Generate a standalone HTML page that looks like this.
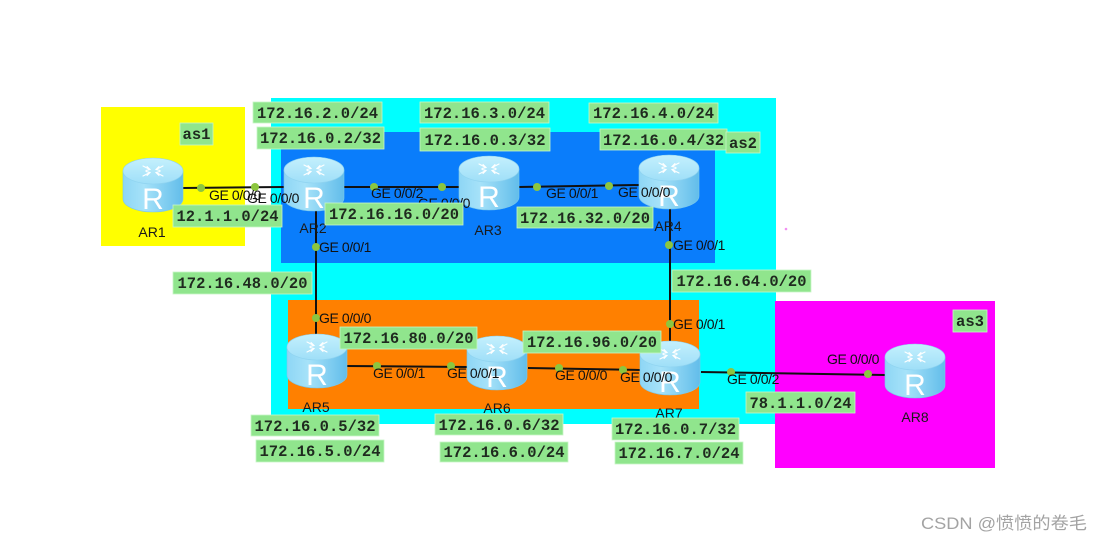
<!DOCTYPE html>
<html><head><meta charset="utf-8"><style>
html,body{margin:0;padding:0;background:#fff;}
svg{display:block;}
.m{font-family:"Liberation Mono","DejaVu Sans Mono",monospace;font-size:15.5px;fill:#1f2a1f;font-weight:bold;}
.g{font-family:"Liberation Sans",sans-serif;font-size:14px;fill:#111;letter-spacing:-0.4px;}
.a{font-family:"Liberation Sans",sans-serif;font-size:14px;fill:#1a1a1a;}
.r{font-family:"Liberation Sans",sans-serif;font-size:30px;fill:#fff;}
</style></head><body>
<svg width="1104" height="543" viewBox="0 0 1104 543" xmlns="http://www.w3.org/2000/svg">
<defs>
<linearGradient id="side" x1="0" y1="0" x2="1" y2="0">
<stop offset="0" stop-color="#8ed6f5"/><stop offset="0.35" stop-color="#a6e2f9"/><stop offset="1" stop-color="#62bdea"/>
</linearGradient>
<linearGradient id="top" x1="0" y1="0" x2="0" y2="1">
<stop offset="0" stop-color="#c4f0fd"/><stop offset="1" stop-color="#9fdff8"/>
</linearGradient>
<g id="rb">
<path d="M0,13 L0,41 A30,13 0 0 0 60,41 L60,13 Z" fill="url(#side)" stroke="#7bc9ec" stroke-width="0.6"/>
<ellipse cx="30" cy="13" rx="30" ry="13" fill="url(#top)" stroke="#8fd3f0" stroke-width="0.6"/>
<g stroke="#fff" stroke-width="1.1" fill="none" stroke-linecap="round">
<path d="M20,8 L27,11.5 M24,8.5 L27,11.5 L23,12.5"/>
<path d="M40,8 L33,11.5 M36,8.5 L33,11.5 L37,12.5"/>
<path d="M20,18 L27,14.5 M23,13.5 L27,14.5 L24,17.5"/>
<path d="M40,18 L33,14.5 M37,13.5 L33,14.5 L36,17.5"/>
</g>
</g>
</defs>

<!-- regions -->
<rect x="101" y="107" width="144" height="139" fill="#ffff00"/>
<rect x="271" y="98" width="505" height="326" fill="#00ffff"/>
<rect x="281" y="132" width="434" height="131" fill="#0a7dfb"/>
<rect x="288" y="300" width="411" height="109" fill="#ff8000"/>
<rect x="775" y="301" width="220" height="167" fill="#ff00ff"/>
<circle cx="786" cy="229" r="1.3" fill="#f28ff2"/>

<!-- links -->
<g stroke="#111" stroke-width="2" fill="none">
<path d="M183,188 L284,187"/>
<path d="M344,187 L459,187"/>
<path d="M519,187 L639,185"/>
<path d="M316,209 L316,335"/>
<path d="M670,207 L670,341"/>
<path d="M346,366 L467,367"/>
<path d="M528,368 L640,370"/>
<path d="M701,372 L885,375"/>
</g>

<!-- routers -->
<g transform="translate(123,158)"><use href="#rb"/><text class="r" x="30" y="51" text-anchor="middle">R</text></g>
<g transform="translate(284,157)"><use href="#rb"/><text class="r" x="30" y="51" text-anchor="middle">R</text></g>
<g transform="translate(459,156)"><use href="#rb"/><text class="r" x="30" y="51" text-anchor="middle">R</text></g>
<g transform="translate(639,155)"><use href="#rb"/><text class="r" x="30" y="51" text-anchor="middle">R</text></g>
<g transform="translate(287,334)"><use href="#rb"/><text class="r" x="30" y="51" text-anchor="middle">R</text></g>
<g transform="translate(467,336)"><use href="#rb"/><text class="r" x="30" y="51" text-anchor="middle">R</text></g>
<g transform="translate(640,341)"><use href="#rb"/><text class="r" x="30" y="51" text-anchor="middle">R</text></g>
<g transform="translate(885,344)"><use href="#rb"/><text class="r" x="30" y="51" text-anchor="middle">R</text></g>

<!-- dots -->
<g fill="#8cc63f">
<circle cx="201" cy="188" r="4"/><circle cx="255" cy="187" r="4"/>
<circle cx="374" cy="187" r="4"/><circle cx="442" cy="187" r="4"/>
<circle cx="537" cy="187" r="4"/><circle cx="609" cy="186" r="4"/>
<circle cx="316" cy="247" r="4"/><circle cx="669" cy="245" r="4"/>
<circle cx="316" cy="318" r="4"/><circle cx="377" cy="366" r="4"/>
<circle cx="451" cy="366" r="4"/><circle cx="559" cy="368" r="4"/>
<circle cx="623" cy="370" r="4"/><circle cx="670" cy="324" r="4"/>
<circle cx="731" cy="372" r="4"/><circle cx="868" cy="374" r="4"/>
</g>

<!-- router names -->
<g class="a" text-anchor="middle">
<text x="152" y="237">AR1</text>
<text x="313" y="233">AR2</text>
<text x="488" y="235">AR3</text>
<text x="668" y="231">AR4</text>
<text x="316" y="412">AR5</text>
<text x="497" y="413">AR6</text>
<text x="669" y="418">AR7</text>
<text x="915" y="422">AR8</text>
</g>

<!-- interface labels -->
<g class="g">
<text x="209" y="200">GE 0/0/0</text>
<text x="247" y="203">GE 0/0/0</text>
<text x="371" y="198">GE 0/0/2</text>
<text x="418" y="208">GE 0/0/0</text>
<text x="546" y="198">GE 0/0/1</text>
<text x="618" y="197">GE 0/0/0</text>
<text x="319" y="252">GE 0/0/1</text>
<text x="673" y="250">GE 0/0/1</text>
<text x="319" y="323">GE 0/0/0</text>
<text x="373" y="378">GE 0/0/1</text>
<text x="447" y="378">GE 0/0/1</text>
<text x="555" y="380">GE 0/0/0</text>
<text x="620" y="382">GE 0/0/0</text>
<text x="673" y="329">GE 0/0/1</text>
<text x="727" y="384">GE 0/0/2</text>
<text x="827" y="364">GE 0/0/0</text>
</g>

<!-- green label boxes -->
<g fill="#90e58d" stroke="#c8f5c6" stroke-width="0.8">
<rect x="253" y="102" width="129" height="21"/>
<rect x="257" y="127" width="127" height="22"/>
<rect x="180" y="123" width="33" height="22"/>
<rect x="173" y="205" width="109" height="22"/>
<rect x="325" y="203" width="138" height="22"/>
<rect x="173" y="272" width="139" height="22"/>
<rect x="420" y="102" width="129" height="21"/>
<rect x="420" y="128" width="130" height="23"/>
<rect x="589" y="103" width="129" height="20"/>
<rect x="600" y="129" width="127" height="21"/>
<rect x="726" y="132" width="34" height="21"/>
<rect x="517" y="207" width="136" height="21"/>
<rect x="672" y="270" width="139" height="22"/>
<rect x="340" y="327" width="137" height="22"/>
<rect x="523" y="331" width="138" height="22"/>
<rect x="251" y="415" width="128" height="21"/>
<rect x="256" y="440" width="128" height="22"/>
<rect x="435" y="414" width="128" height="21"/>
<rect x="440" y="442" width="128" height="20"/>
<rect x="612" y="418" width="127" height="22"/>
<rect x="615" y="442" width="128" height="22"/>
<rect x="746" y="392" width="109" height="21"/>
<rect x="953" y="310" width="34" height="22"/>
</g>
<g class="m" text-anchor="middle">
<text x="317.5" y="118" textLength="121" lengthAdjust="spacingAndGlyphs">172.16.2.0/24</text>
<text x="320.5" y="143" textLength="121" lengthAdjust="spacingAndGlyphs">172.16.0.2/32</text>
<text x="196.5" y="139" textLength="28" lengthAdjust="spacingAndGlyphs">as1</text>
<text x="227.5" y="221" textLength="102" lengthAdjust="spacingAndGlyphs">12.1.1.0/24</text>
<text x="394" y="219" textLength="130" lengthAdjust="spacingAndGlyphs">172.16.16.0/20</text>
<text x="242.5" y="288" textLength="130" lengthAdjust="spacingAndGlyphs">172.16.48.0/20</text>
<text x="484.5" y="118" textLength="121" lengthAdjust="spacingAndGlyphs">172.16.3.0/24</text>
<text x="485" y="145" textLength="121" lengthAdjust="spacingAndGlyphs">172.16.0.3/32</text>
<text x="653.5" y="118" textLength="121" lengthAdjust="spacingAndGlyphs">172.16.4.0/24</text>
<text x="663.5" y="145" textLength="121" lengthAdjust="spacingAndGlyphs">172.16.0.4/32</text>
<text x="743" y="148" textLength="28" lengthAdjust="spacingAndGlyphs">as2</text>
<text x="585" y="223" textLength="130" lengthAdjust="spacingAndGlyphs">172.16.32.0/20</text>
<text x="741.5" y="286" textLength="130" lengthAdjust="spacingAndGlyphs">172.16.64.0/20</text>
<text x="408.5" y="343" textLength="130" lengthAdjust="spacingAndGlyphs">172.16.80.0/20</text>
<text x="592" y="347" textLength="130" lengthAdjust="spacingAndGlyphs">172.16.96.0/20</text>
<text x="315" y="431" textLength="121" lengthAdjust="spacingAndGlyphs">172.16.0.5/32</text>
<text x="320" y="456" textLength="121" lengthAdjust="spacingAndGlyphs">172.16.5.0/24</text>
<text x="499" y="430" textLength="121" lengthAdjust="spacingAndGlyphs">172.16.0.6/32</text>
<text x="504" y="457" textLength="121" lengthAdjust="spacingAndGlyphs">172.16.6.0/24</text>
<text x="675.5" y="434" textLength="121" lengthAdjust="spacingAndGlyphs">172.16.0.7/32</text>
<text x="679" y="458" textLength="121" lengthAdjust="spacingAndGlyphs">172.16.7.0/24</text>
<text x="800.5" y="408" textLength="102" lengthAdjust="spacingAndGlyphs">78.1.1.0/24</text>
<text x="970" y="326" textLength="28" lengthAdjust="spacingAndGlyphs">as3</text>
</g>

<!-- watermark -->
<text x="921" y="529" font-family="'Liberation Sans','Noto Sans CJK SC',sans-serif" font-size="17" fill="#a3a3a3" textLength="166" lengthAdjust="spacingAndGlyphs">CSDN @愤愤的卷毛</text>
</svg>
</body></html>
